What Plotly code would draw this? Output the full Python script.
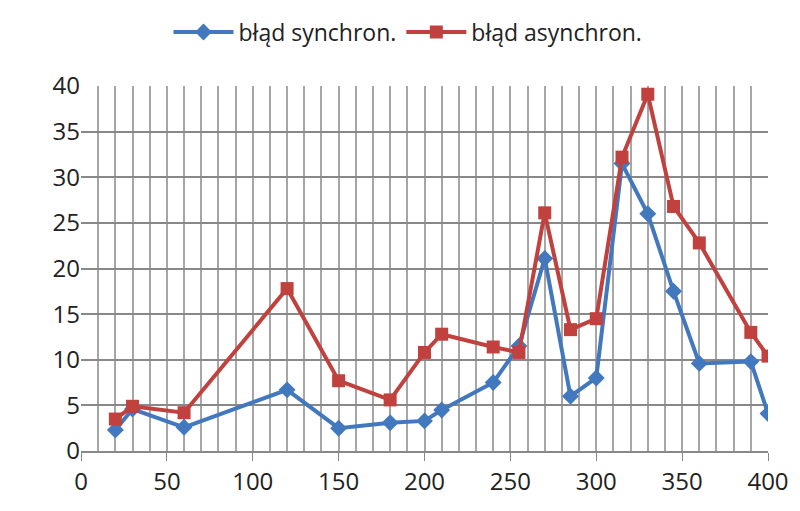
import plotly.graph_objects as go

x = [20,30,60,120,150,180,200,210,240,255,270,285,300,315,330,345,360,390,400]
sync = [2.3,4.6,2.6,6.7,2.5,3.1,3.3,4.5,7.5,11.5,21.1,6.0,8.0,31.5,26.0,17.5,9.6,9.8,4.1]
async_ = [3.5,4.9,4.2,17.8,7.7,5.6,10.8,12.8,11.4,10.8,26.1,13.3,14.5,32.2,39.1,26.8,22.8,13.0,10.4]

fig = go.Figure()
fig.add_trace(go.Scatter(x=x, y=sync, name="błąd synchron.", mode="lines+markers",
    line=dict(color="#4178BE", width=4), marker=dict(symbol="diamond", size=13, color="#4178BE")))
fig.add_trace(go.Scatter(x=x, y=async_, name="błąd asynchron.", mode="lines+markers",
    line=dict(color="#C0413D", width=4), marker=dict(symbol="square", size=13, color="#C0413D")))

fig.update_layout(
    width=800, height=511, paper_bgcolor="white", plot_bgcolor="white",
    margin=dict(l=73, r=40, t=78, b=68),
    font=dict(family="Open Sans, Liberation Sans, sans-serif", size=24, color="#222"),
    legend=dict(orientation="h", x=0.5, xanchor="center", xref="container",
                y=0.995, yanchor="top", yref="container",
                font=dict(size=23), itemwidth=60),
    xaxis=dict(range=[0,400], dtick=50, showgrid=True, gridcolor="#A6A6A6", gridwidth=2,
               minor=dict(dtick=10, showgrid=True, gridcolor="#A6A6A6", gridwidth=2),
               ticks="outside", ticklen=8, tickcolor="#888", showline=True, linecolor="#888", linewidth=2,
               zeroline=False),
    yaxis=dict(range=[0,40], dtick=5, showgrid=True, gridcolor="#888", gridwidth=2,
               zeroline=False, ticks="", showline=False),
)
fig.write_html("out.html")
